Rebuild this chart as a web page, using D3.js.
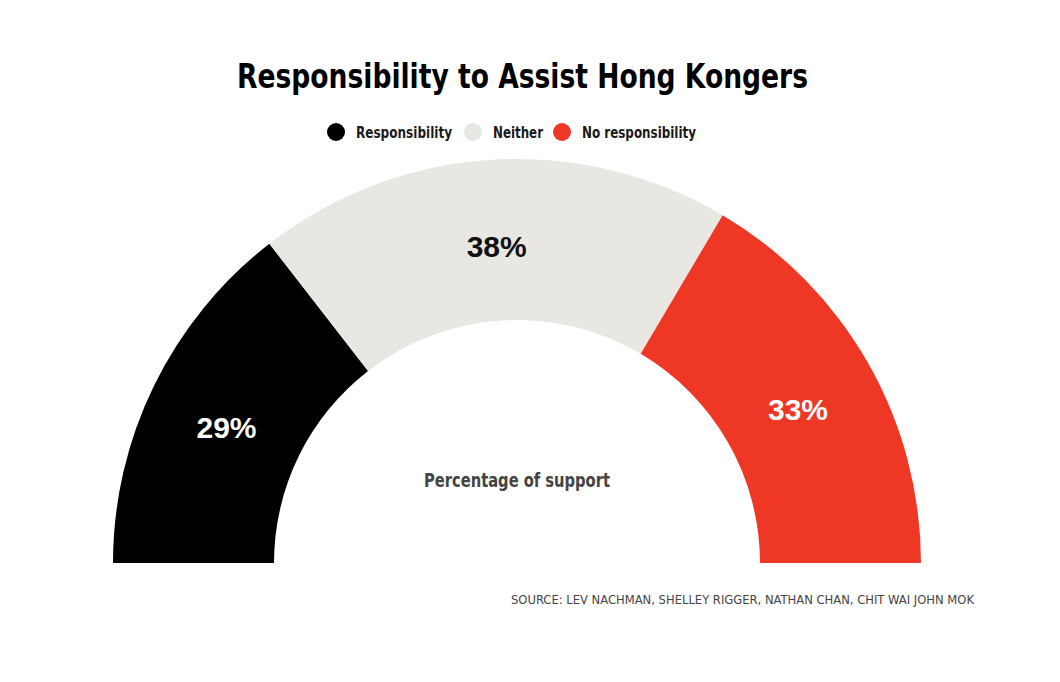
<!DOCTYPE html>
<html><head><meta charset="utf-8">
<script src="https://cdn.jsdelivr.net/npm/d3@7"></script>
<style>
body{margin:0;background:#fff;}
svg{display:block;}
</style></head>
<body>
<svg id="c" width="1060" height="682"></svg>
<script>
const categories = ["Responsibility", "Neither", "No responsibility"];
const values = [29, 38, 33];
const colors = ["#000000", "#e9e7e1", "#ee3724"];
const labelColors = ["#ffffff", "#111111", "#ffffff"];
const title = "Responsibility to Assist Hong Kongers";
const centerLabel = "Percentage of support";
const source = "SOURCE: LEV NACHMAN, SHELLEY RIGGER, NATHAN CHAN, CHIT WAI JOHN MOK";

const W = 1060, H = 682;
const cx = 517, cy = 563, R = 404, r = 243;
const condensed = "'DejaVu Sans Condensed','Roboto',sans-serif";

const svg = d3.select("#c");

function fit(sel, len) {
  return sel.attr("textLength", len).attr("lengthAdjust", "spacingAndGlyphs");
}

fit(svg.append("text").attr("x", 237).attr("y", 88)
  .attr("font-family", condensed).attr("font-weight", "bold").attr("font-size", 34)
  .attr("fill", "#000").text(title), 571);

// legend
const legendX = [336, 473, 562];
const legendW = [96, 50, 114];
const lg = svg.append("g");
categories.forEach((c, i) => {
  lg.append("circle").attr("cx", legendX[i]).attr("cy", 132).attr("r", 9).attr("fill", colors[i]);
  fit(lg.append("text").attr("x", legendX[i] + 20).attr("y", 138)
    .attr("font-family", condensed).attr("font-size", 16).attr("font-weight", "bold")
    .attr("fill", "#1a1a1a").text(c), legendW[i]);
});

const pie = d3.pie().sort(null).value(d => d)
  .startAngle(-Math.PI / 2).endAngle(Math.PI / 2);
const arc = d3.arc().innerRadius(r).outerRadius(R);
const arcs = pie(values);

const g = svg.append("g").attr("transform", `translate(${cx},${cy})`);
g.selectAll("path").data(arcs).join("path")
  .attr("d", arc).attr("fill", (d, i) => colors[i]);

g.selectAll("text.lab").data(arcs).join("text").attr("class", "lab")
  .attr("transform", d => `translate(${arc.centroid(d)})`)
  .attr("dy", 17).attr("text-anchor", "middle")
  .attr("font-family", "'Liberation Sans',Arial,sans-serif").attr("font-weight", "bold")
  .attr("font-size", 30).attr("fill", (d, i) => labelColors[i])
  .text(d => d.data + "%");

fit(svg.append("text").attr("x", 424).attr("y", 487)
  .attr("font-family", condensed).attr("font-weight", "bold").attr("font-size", 19)
  .attr("fill", "#444").text(centerLabel), 186);

fit(svg.append("text").attr("x", 511).attr("y", 604)
  .attr("font-family", condensed).attr("font-size", 13)
  .attr("fill", "#444").text(source), 463);
</script>
</body></html>
